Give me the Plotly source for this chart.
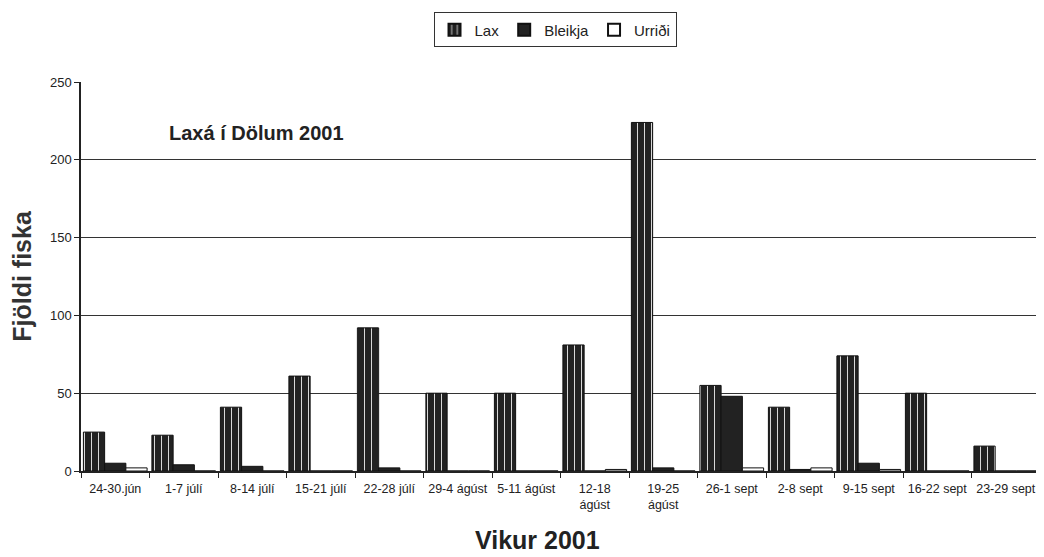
import plotly.graph_objects as go

weeks = ["24-30.jún", "1-7 júlí", "8-14 júlí", "15-21 júlí", "22-28 júlí",
         "29-4 ágúst", "5-11 ágúst", "12-18<br>ágúst", "19-25<br>ágúst",
         "26-1 sept", "2-8 sept", "9-15 sept", "16-22 sept", "23-29 sept"]
lax = [25, 23, 41, 61, 92, 50, 50, 81, 224, 55, 41, 74, 50, 16]
bleikja = [5, 4, 3, 0, 2, 0, 0, 0, 2, 48, 1, 5, 0, 0]
urridi = [2, 0, 0, 0, 0, 0, 0, 1, 0, 2, 2, 1, 0, 0]
y_ticks = [0, 50, 100, 150, 200, 250]

FONT = "Liberation Sans, Arial, sans-serif"
DARK = "#222222"
TXT = "#222222"

fig = go.Figure()
fig.add_trace(go.Bar(
    name="Lax", x=weeks, y=lax,
    marker=dict(color=DARK, line=dict(color="#111111", width=1),
                pattern=dict(shape="|", fgcolor="#d8d8d8", bgcolor=DARK,
                             size=7, solidity=0.15)),
))
fig.add_trace(go.Bar(
    name="Bleikja", x=weeks, y=bleikja,
    marker=dict(color=DARK, line=dict(color="#111111", width=1)),
))
fig.add_trace(go.Bar(
    name="Urriði", x=weeks, y=urridi,
    marker=dict(color="white", line=dict(color="#111111", width=1)),
))

fig.add_annotation(
    text="<b>Laxá í Dölum 2001</b>", xref="paper", yref="paper",
    x=0.09, y=0.869, xanchor="left", yanchor="middle", showarrow=False,
    font=dict(family=FONT, size=20, color=TXT),
)
fig.add_annotation(
    text="<b>Vikur 2001</b>", xref="paper", yref="paper",
    x=0.4755, y=-0.178, xanchor="center", yanchor="middle", showarrow=False,
    font=dict(family=FONT, size=25, color=TXT),
)

fig.update_layout(
    template="none",
    width=1036, height=549,
    margin=dict(l=73, r=4, t=74, b=86, autoexpand=False),
    paper_bgcolor="white", plot_bgcolor="white",
    barmode="group", bargap=0.07, bargroupgap=0,
    font=dict(family=FONT, size=12, color=TXT),
    showlegend=True,
    legend=dict(orientation="h", x=0.528, y=0.96, xref="container", yref="container",
                xanchor="center", yanchor="middle",
                bordercolor="#333333", borderwidth=1, bgcolor="white",
                font=dict(family=FONT, size=15, color=TXT),
                itemwidth=30, tracegroupgap=0, itemsizing="constant"),
    xaxis=dict(
        automargin=False,
        showline=True, linecolor="#222222", linewidth=1.5, mirror=False,
        showgrid=False, zeroline=False,
        ticks="outside", ticklen=5, tickcolor="#222222", tickson="boundaries",
        tickfont=dict(family=FONT, size=12.5, color=TXT),
        ticklabelstandoff=5,
        tickangle=0,
    ),
    yaxis=dict(
        automargin=False,
        range=[0, 250], tickvals=y_ticks,
        showline=True, linecolor="#222222", linewidth=1.5,
        showgrid=True, gridcolor="#333333", gridwidth=1,
        ticks="outside", ticklen=5, tickcolor="#222222",
        tickfont=dict(family=FONT, size=13, color=TXT),
        zeroline=False,
        title=dict(text="<b>Fjöldi fiska</b>", font=dict(family=FONT, size=25, color="#333333"),
                   standoff=26),
    ),
)

fig.write_html("out.html")
